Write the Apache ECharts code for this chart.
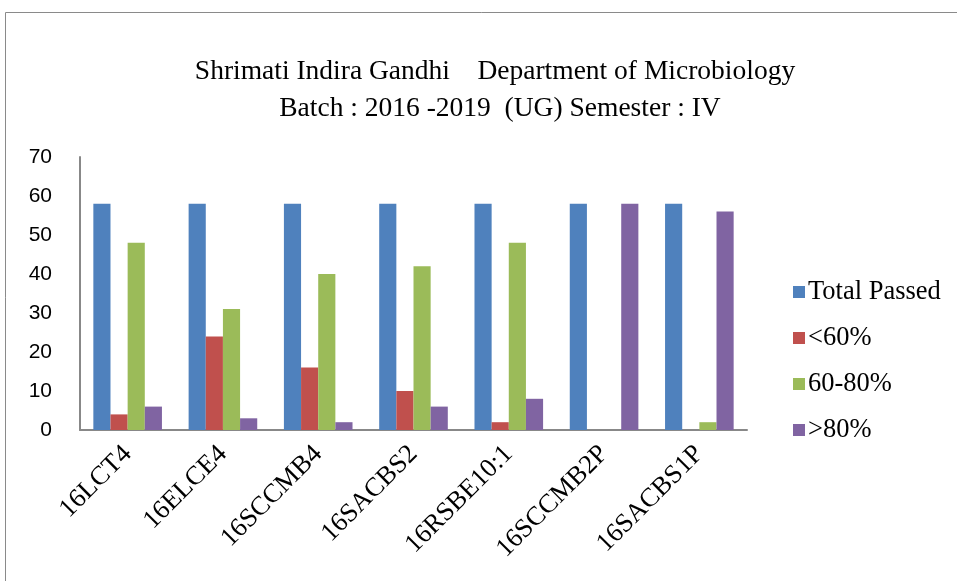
<!DOCTYPE html>
<html><head><meta charset="utf-8">
<script src="https://cdn.jsdelivr.net/npm/echarts@6/dist/echarts.min.js"></script>
<style>html,body{margin:0;padding:0;background:#fff}#c{width:957px;height:581px}</style>
</head><body><div id="c"></div>
<script>
const categories = ['16LCT4','16ELCE4','16SCCMB4','16SACBS2','16RSBE10:1','16SCCMB2P','16SACBS1P'];
const seriesNames = ['Total Passed','<60%','60-80%','>80%'];
const totalPassed = [58,58,58,58,58,58,58];
const below60 = [4,24,16,10,2,0,0];
const from60to80 = [48,31,40,42,48,0,2];
const above80 = [6,3,2,6,8,58,56];
const yTicks = [0,10,20,30,40,50,60,70];
const colors = ['#4F81BD','#C0504D','#9BBB59','#8064A2'];
const serif = '"Liberation Serif","Times New Roman",serif';
const sans = '"Liberation Sans",Arial,sans-serif';
const chart = echarts.init(document.getElementById('c'));
const dataSets = [totalPassed, below60, from60to80, above80];
chart.setOption({
  animation:false,
  graphic:[{type:'rect',shape:{x:5.5,y:12.5,width:1000,height:1000},style:{fill:'none',stroke:'#8a8a8a',lineWidth:1},silent:true}],
  title:[
    {text:'Shrimati Indira Gandhi    Department of Microbiology',left:490,top:52,textAlign:'center',textStyle:{fontFamily:serif,fontSize:27.5,lineHeight:30,fontWeight:'normal',color:'#000'}},
    {text:'Batch : 2016 -2019  (UG) Semester : IV',left:495,top:89,textAlign:'center',textStyle:{fontFamily:serif,fontSize:27.5,lineHeight:30,fontWeight:'normal',color:'#000'}}
  ],
  legend:{orient:'vertical',left:788,top:273,itemGap:18,itemWidth:12,itemHeight:12,icon:'rect',
    data:seriesNames,textStyle:{fontFamily:serif,fontSize:26.5,lineHeight:28,color:'#000',padding:[0,0,0,-2]}},
  grid:{left:80,right:210,top:157,bottom:151},
  xAxis:{type:'category',data:categories,
    axisLine:{lineStyle:{color:'#888',width:2}},axisTick:{show:false},
    axisLabel:{rotate:45,interval:0,fontFamily:serif,fontSize:26.5,color:'#000',margin:20}},
  yAxis:{type:'value',min:0,max:70,interval:10,
    axisLine:{show:true,lineStyle:{color:'#888',width:2}},axisTick:{show:false},splitLine:{show:false},
    axisLabel:{fontFamily:sans,fontSize:21,color:'#000',margin:28,
      formatter:v=>yTicks.includes(v)?String(v):''}},
  series:seriesNames.map((n,i)=>({name:n,type:'bar',data:dataSets[i],barGap:'0%',barCategoryGap:'28%',
    itemStyle:{color:colors[i]}}))
});
</script></body></html>
